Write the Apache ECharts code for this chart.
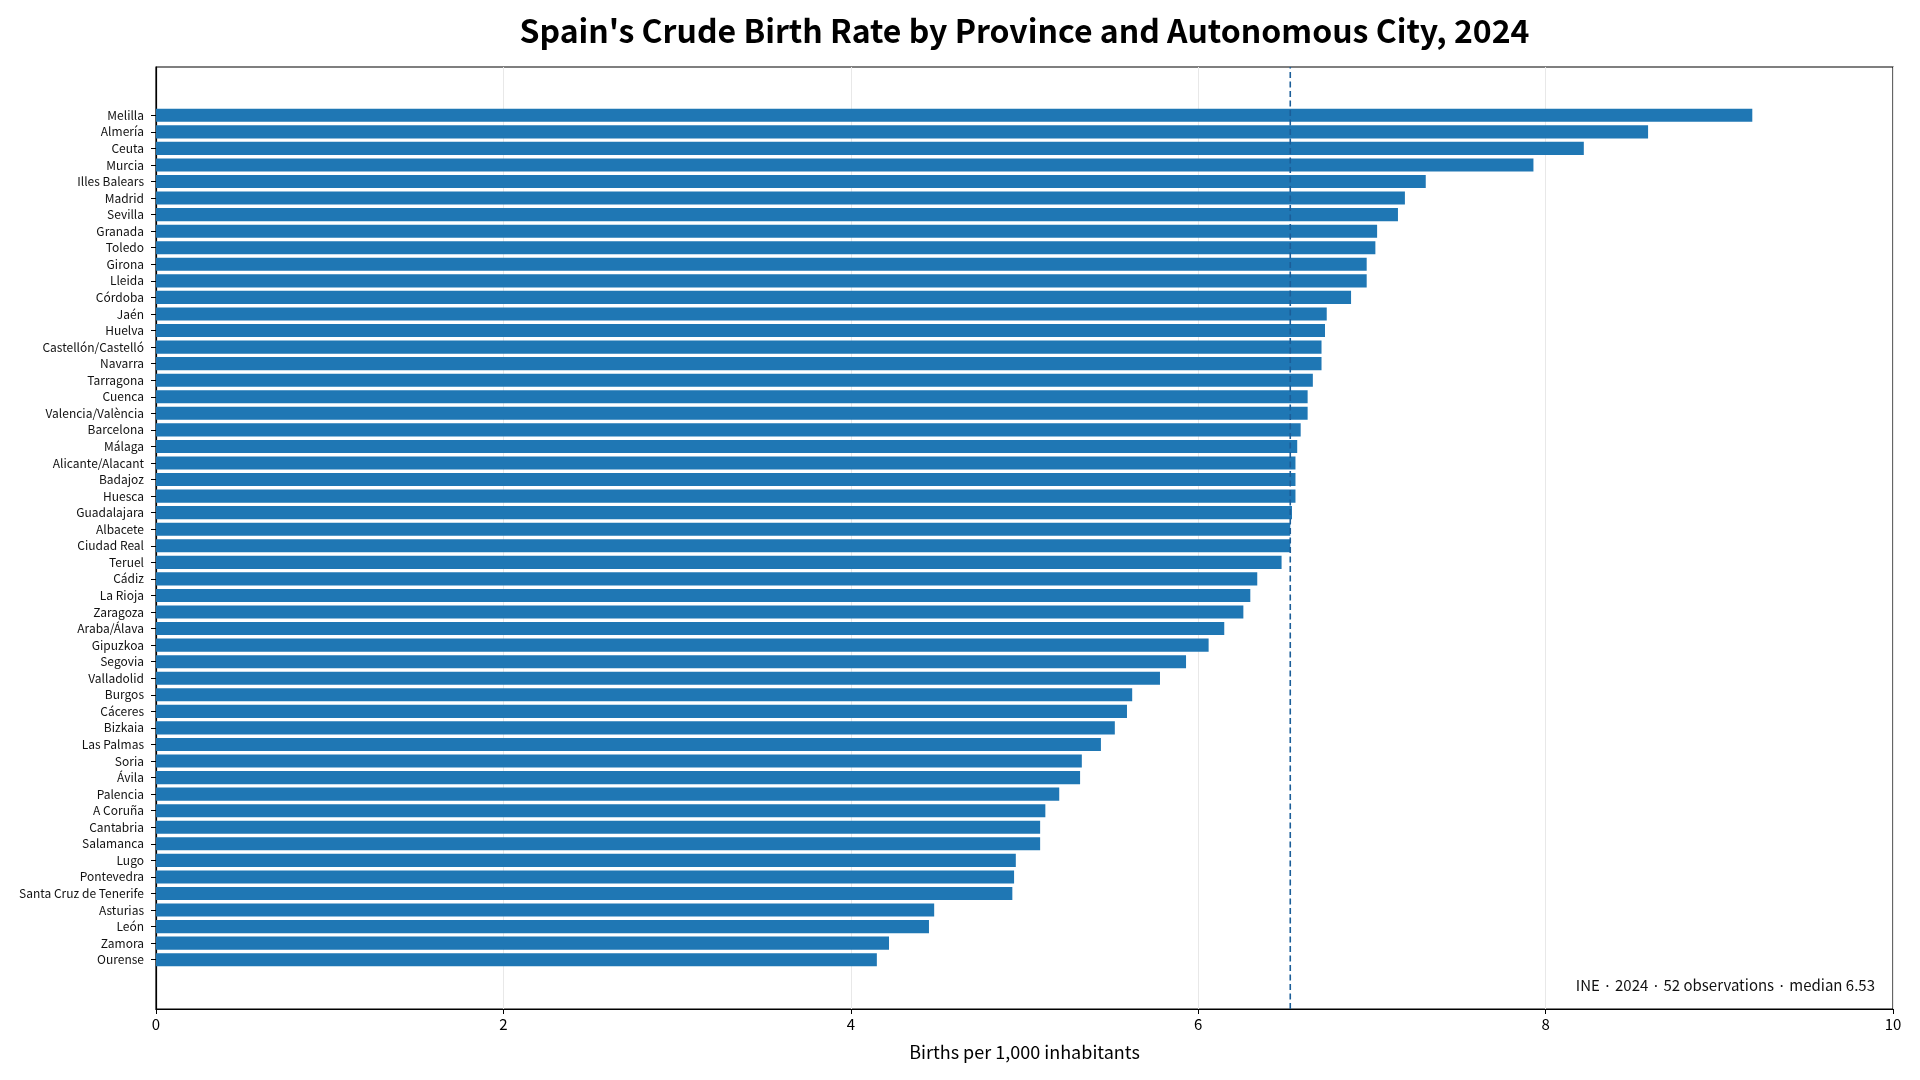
<!DOCTYPE html>
<html>
<head>
<meta charset="utf-8">
<script src="https://cdn.jsdelivr.net/npm/echarts@6/dist/echarts.min.js"></script>
<style>
html,body{margin:0;padding:0;background:#fff;}
#chart{width:1920px;height:1080px;}
</style>
</head>
<body>
<div id="chart"></div>
<script>
const provinces = ["Melilla","Almería","Ceuta","Murcia","Illes Balears","Madrid","Sevilla","Granada","Toledo","Girona","Lleida","Córdoba","Jaén","Huelva","Castellón/Castelló","Navarra","Tarragona","Cuenca","Valencia/València","Barcelona","Málaga","Alicante/Alacant","Badajoz","Huesca","Guadalajara","Albacete","Ciudad Real","Teruel","Cádiz","La Rioja","Zaragoza","Araba/Álava","Gipuzkoa","Segovia","Valladolid","Burgos","Cáceres","Bizkaia","Las Palmas","Soria","Ávila","Palencia","A Coruña","Cantabria","Salamanca","Lugo","Pontevedra","Santa Cruz de Tenerife","Asturias","León","Zamora","Ourense"];
const birthRates = [9.19,8.59,8.22,7.93,7.31,7.19,7.15,7.03,7.02,6.97,6.97,6.88,6.74,6.73,6.71,6.71,6.66,6.63,6.63,6.59,6.57,6.56,6.56,6.56,6.54,6.53,6.53,6.48,6.34,6.30,6.26,6.15,6.06,5.93,5.78,5.62,5.59,5.52,5.44,5.33,5.32,5.20,5.12,5.09,5.09,4.95,4.94,4.93,4.48,4.45,4.22,4.15];
const xTicks = [0,2,4,6,8,10];
const titleText = "Spain's Crude Birth Rate by Province and Autonomous City, 2024";
const xAxisTitle = "Births per 1,000 inhabitants";
const sourceText = "INE";
const yearText = "2024";

const sorted = birthRates.slice().sort((a,b)=>a-b);
const n = sorted.length;
const median = n % 2 ? sorted[(n-1)/2] : (sorted[n/2-1] + sorted[n/2]) / 2;
const noteText = sourceText + " · " + yearText + " · " + n + " observations · median " + median.toFixed(2);

const FONT = "'Noto Sans CJK JP', 'Noto Sans', sans-serif";
const GRID_LEFT = 156, GRID_RIGHT = 27;
const chart = echarts.init(document.getElementById('chart'), null, {renderer:'canvas'});
chart.setOption({
  backgroundColor: '#ffffff',
  animation: false,
  textStyle: {fontFamily: FONT},
  graphic: [
    {
      type: 'text', x: GRID_LEFT + (1920 - GRID_LEFT - GRID_RIGHT) / 2, y: 31,
      style: {text: titleText, fontFamily: FONT, fontSize: 32, fontWeight: 'bold', fill: '#000', textAlign: 'center', textVerticalAlign: 'middle'},
      z: 10
    },
    {
      type: 'text', right: 45, top: 978,
      style: {text: noteText, fontFamily: FONT, fontSize: 15, fill: '#111', textAlign: 'right'},
      z: 10
    }
  ],
  grid: [
    {left: GRID_LEFT, right: GRID_RIGHT, top: 67, bottom: 71, show: true, borderColor: '#000', borderWidth: 1.2, backgroundColor: 'transparent'},
    {left: GRID_LEFT, right: GRID_RIGHT, top: 107, bottom: 112}
  ],
  xAxis: [
    {
      gridIndex: 0, type: 'value', min: xTicks[0], max: xTicks[xTicks.length-1], interval: 2,
      name: xAxisTitle, nameLocation: 'middle', nameGap: 34,
      nameTextStyle: {fontFamily: FONT, fontSize: 18, color: '#000'},
      axisLine: {show: true, lineStyle: {color: '#000', width: 1.2}},
      axisTick: {show: true, length: 5, lineStyle: {color: '#000'}},
      axisLabel: {fontFamily: FONT, fontSize: 15, color: '#000', margin: 8},
      splitLine: {show: true, lineStyle: {color: '#e8e8e8', width: 1}}
    },
    {
      gridIndex: 1, type: 'value', min: xTicks[0], max: xTicks[xTicks.length-1], show: false,
      splitLine: {show: false}
    }
  ],
  yAxis: [
    {
      gridIndex: 0, type: 'value', min: 0, max: 1,
      axisLine: {show: true, lineStyle: {color: '#000', width: 1.2}},
      axisTick: {show: false}, axisLabel: {show: false}, splitLine: {show: false}
    },
    {
      gridIndex: 1, type: 'category', data: provinces, inverse: true,
      axisLine: {show: false},
      axisTick: {show: true, length: 5, alignWithLabel: true, lineStyle: {color: '#000'}},
      axisLabel: {fontFamily: FONT, fontSize: 12, color: '#111', margin: 12, interval: 0},
      splitLine: {show: false}
    }
  ],
  series: [
    {
      type: 'bar', xAxisIndex: 1, yAxisIndex: 1,
      data: birthRates,
      barCategoryGap: '21%',
      itemStyle: {color: '#1f77b4'},
      z: 2
    },
    {
      type: 'line', xAxisIndex: 0, yAxisIndex: 0,
      data: [[median, 0], [median, 1]],
      symbol: 'none',
      lineStyle: {color: '#1b5e99', width: 1.6, type: [6, 3.5]},
      z: 5
    }
  ]
});
</script>
</body>
</html>
